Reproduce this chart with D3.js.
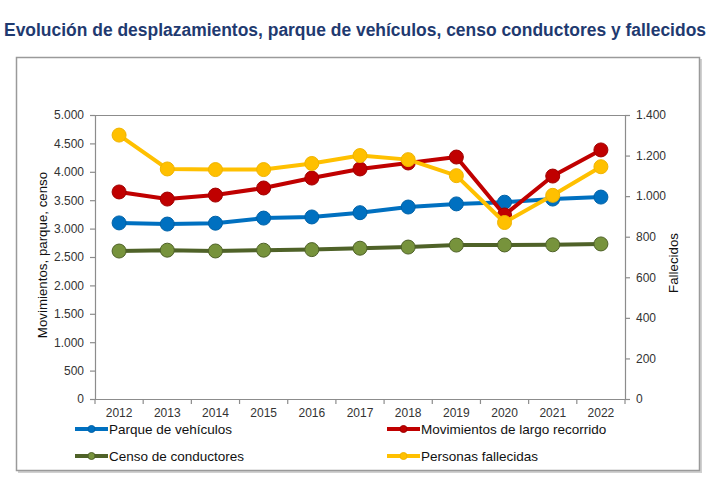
<!DOCTYPE html>
<html><head><meta charset="utf-8">
<script src="https://cdn.jsdelivr.net/npm/d3@7"></script>
<style>body{margin:0;background:#fff}svg{display:block}</style>
</head><body>
<svg id="c" width="720" height="480"></svg>
<script>
const years = ["2012","2013","2014","2015","2016","2017","2018","2019","2020","2021","2022"];
const parque = [3100,3080,3095,3185,3205,3280,3380,3435,3465,3520,3555];
const movimientos = [3645,3520,3590,3715,3890,4050,4155,4260,3240,3925,4385];
const censo = [2605,2620,2606,2620,2630,2655,2675,2710,2712,2715,2730];
const fallecidos = [1301,1134,1131,1131,1161,1200,1180,1101,870,1004,1145];
const leftTicks = [0,500,1000,1500,2000,2500,3000,3500,4000,4500,5000];
const rightTicks = [0,200,400,600,800,1000,1200,1400];

const svg = d3.select("#c");
const m = {l:95, r:625, t:115, b:399};
const fmt = v => d3.format(",")(v).replace(/,/g,".");
const font = "Liberation Sans, Arial, sans-serif";

svg.append("text").attr("transform","translate(4,36) scale(1,1.12)")
  .attr("font-family","'Liberation Sans Narrow', 'Arial Narrow', Liberation Sans, sans-serif")
  .attr("font-weight","bold").attr("font-size",16.5).attr("fill","#1f3a70")
  .attr("textLength",702).attr("lengthAdjust","spacingAndGlyphs")
  .text("Evolución de desplazamientos, parque de vehículos, censo conductores y fallecidos");

// outer frame with shadow
svg.append("rect").attr("x",18).attr("y",59).attr("width",684).attr("height",414).attr("fill","#d0d0d0");
svg.append("rect").attr("x",16.5).attr("y",57.5).attr("width",683).attr("height",413).attr("fill","#fff").attr("stroke","#9a9a9a").attr("stroke-width",1.5);

const x = d3.scaleBand().domain(years).range([m.l,m.r]);
const yL = d3.scaleLinear().domain([0,5000]).range([m.b,m.t]);
const yR = d3.scaleLinear().domain([0,1400]).range([m.b,m.t]);

// plot top border
svg.append("line").attr("x1",m.l).attr("x2",m.r).attr("y1",m.t+0.5).attr("y2",m.t+0.5).attr("stroke","#8c8c8c");

const axL = svg.append("g").attr("transform",`translate(${m.l},0)`)
  .call(d3.axisLeft(yL).tickValues(leftTicks).tickFormat(fmt).tickSize(5).tickPadding(6));
const axR = svg.append("g").attr("transform",`translate(${m.r},0)`)
  .call(d3.axisRight(yR).tickValues(rightTicks).tickFormat(fmt).tickSize(5).tickPadding(6));
const axB = svg.append("g").attr("transform",`translate(0,${m.b})`)
  .call(d3.axisBottom(x).tickSize(0).tickPadding(9));
// category boundary ticks
axB.selectAll(".bt").data(years.concat(["end"])).enter().append("line")
  .attr("x1",(d,i)=>m.l+i*x.step()).attr("x2",(d,i)=>m.l+i*x.step())
  .attr("y1",0).attr("y2",5).attr("stroke","#8c8c8c");
[axL,axR,axB].forEach(a=>{
  a.selectAll("path,line").attr("stroke","#8c8c8c").attr("stroke-width",1.2);
  a.selectAll("text").attr("font-family",font).attr("font-size",12).attr("fill","#333");
});
axB.select(".domain").attr("d",`M${m.l},0.5H${m.r}`);

svg.append("text").attr("transform",`translate(47,${(m.t+m.b)/2-2}) rotate(-90)`)
  .attr("text-anchor","middle").attr("font-family",font).attr("font-size",13.3).attr("fill","#111")
  .text("Movimientos, parque, censo");
svg.append("text").attr("transform",`translate(678,${(m.t+m.b)/2+6}) rotate(-90)`)
  .attr("text-anchor","middle").attr("font-family",font).attr("font-size",13.3).attr("fill","#111")
  .text("Fallecidos");

const series = [
  {name:"Personas fallecidas", vals:fallecidos, y:yR, line:"#ffc000", fill:"#ffc000", stroke:"#f0b400"},
  {name:"Censo de conductores", vals:censo, y:yL, line:"#4f6228", fill:"#77933c", stroke:"#4f6228"},
  {name:"Parque de vehículos", vals:parque, y:yL, line:"#0070c0", fill:"#0070c0", stroke:"#0062a8"},
  {name:"Movimientos de largo recorrido", vals:movimientos, y:yL, line:"#c00000", fill:"#c00000", stroke:"#a00000"}
];
const cx = d => x(d)+x.bandwidth()/2;
const order = [1,2,3,0];
order.forEach(i=>{
  const s = series[i];
  const g = svg.append("g");
  g.append("path").datum(s.vals)
    .attr("d",d3.line().x((v,j)=>cx(years[j])).y(v=>s.y(v)))
    .attr("fill","none").attr("stroke",s.line).attr("stroke-width",4).attr("stroke-linejoin","round");
  g.selectAll("circle").data(s.vals).enter().append("circle")
    .attr("cx",(v,j)=>cx(years[j])).attr("cy",v=>s.y(v)).attr("r",7)
    .attr("fill",s.fill).attr("stroke",s.stroke).attr("stroke-width",1);
});

// legend
const leg = [
  {s:series[2], x:75, y:429},
  {s:series[3], x:387, y:429},
  {s:series[1], x:75, y:456},
  {s:series[0], x:387, y:456}
];
leg.forEach(L=>{
  const g = svg.append("g").attr("transform",`translate(${L.x},${L.y})`);
  g.append("line").attr("x1",0).attr("x2",33).attr("y1",0).attr("y2",0).attr("stroke",L.s.line).attr("stroke-width",4);
  g.append("circle").attr("cx",16.5).attr("cy",0).attr("r",3.5).attr("fill",L.s.fill).attr("stroke",L.s.stroke);
  g.append("text").attr("x",34).attr("y",5).attr("font-family",font).attr("font-size",13.5).attr("fill","#111").text(L.s.name);
});
</script>
</body></html>
